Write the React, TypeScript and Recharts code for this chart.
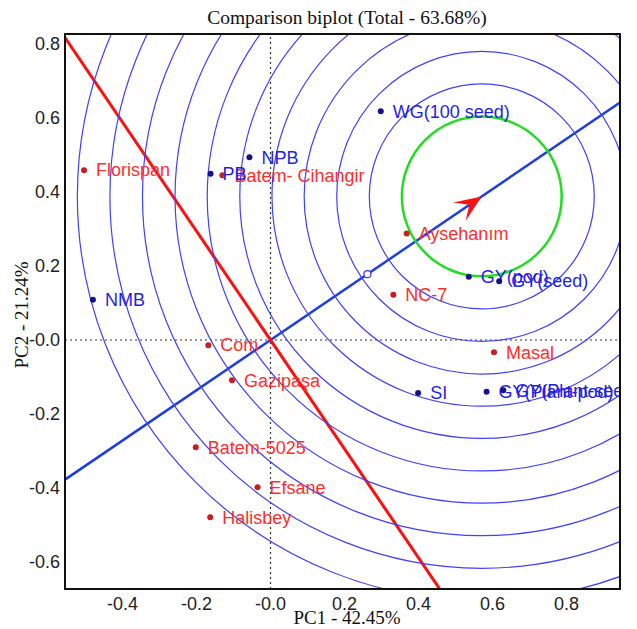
import React from 'react';
import {
  ScatterChart, Scatter, XAxis, YAxis, ReferenceLine, ReferenceDot,
} from 'recharts';

// ---- data ----
const GENOTYPES = ['Florispan', 'Batem- Cihangir', 'Aysehanım', 'NC-7', 'Masal', 'Com', 'Gazipaşa', 'Batem-5025', 'Efsane', 'Halisbey'];
const GENO_X = [-0.504, -0.130, 0.368, 0.332, 0.604, -0.168, -0.104, -0.202, -0.035, -0.163];
const GENO_Y = [0.459, 0.445, 0.288, 0.122, -0.033, -0.014, -0.109, -0.290, -0.398, -0.479];

const TRAITS = ['NPB', 'PB', 'WG(100 seed)', 'NMB', 'GY(pod)', 'GY(seed)', 'SI', 'GY(Plant-pod)', 'GY(Plant-seed)'];
const TRAIT_X = [-0.057, -0.162, 0.298, -0.480, 0.536, 0.618, 0.399, 0.584, 0.629];
const TRAIT_Y = [0.494, 0.449, 0.618, 0.109, 0.171, 0.159, -0.143, -0.140, -0.136];

const X_TICKS = [-0.4, -0.2, 0, 0.2, 0.4, 0.6, 0.8];
const Y_TICKS = [-0.6, -0.4, -0.2, 0, 0.2, 0.4, 0.6, 0.8];

const IDEAL = { x: 0.571, y: 0.388 };
const GREEN_RADIUS = 0.216;
const CIRCLE_RADII = [0.304, 0.392, 0.480, 0.567, 0.654, 0.742, 0.829, 0.917, 1.005, 1.093];
const AXIS_MARK = { x: 0.262, y: 0.178 };

const X_MIN = -0.5554, X_MAX = 0.9446, Y_MIN = -0.673, Y_MAX = 0.827;

// ---- layout ----
const W = 629, H = 621;
const MARGIN = { top: 26, right: 17, left: 0, bottom: 0 };
const Y_AXIS_W = 57, X_AXIS_H = 40;
const PLOT_X = MARGIN.left + Y_AXIS_W;
const PLOT_Y = MARGIN.top;
const PLOT_W = W - MARGIN.left - MARGIN.right - Y_AXIS_W;
const PLOT_H = H - MARGIN.top - MARGIN.bottom - X_AXIS_H;
const PX_PER_UNIT = PLOT_W / (X_MAX - X_MIN);
const BW = 2;

const SANS = 'Liberation Sans, Arial, Helvetica, sans-serif';
const SERIF = 'Liberation Serif, Times New Roman, serif';

const genoData = GENOTYPES.map((name, i) => ({ name, x: GENO_X[i], y: GENO_Y[i] }));
const traitData = TRAITS.map((name, i) => ({ name, x: TRAIT_X[i], y: TRAIT_Y[i] }));

const slope = IDEAL.y / IDEAL.x;
const blueSeg = [{ x: -1.5, y: -1.5 * slope }, { x: 1.5, y: 1.5 * slope }];
const redSeg = [{ x: -1.5, y: 1.5 / slope }, { x: 1.5, y: -1.5 / slope }];
const arrowAngle = -Math.atan(slope) * 180 / Math.PI;

const makeShape = (dot: string, label: string) => (p: any) => (
  <g>
    <circle cx={p.cx} cy={p.cy} r={3} fill={dot} />
    <text x={p.cx + 12} y={p.cy} dy="0.35em" fontSize={18} fill={label} fontFamily={SANS}>
      {p.payload.name}
    </text>
  </g>
);

const fmt = (v: number) => (v === 0 ? '-0.0' : v.toFixed(1));

export default function App() {
  return (
    <div style={{ position: 'relative', width: W, height: H }}>
      <ScatterChart width={W} height={H} margin={MARGIN}>
        <XAxis
          type="number" dataKey="x" domain={[X_MIN, X_MAX]} ticks={X_TICKS} allowDataOverflow
          tickFormatter={fmt} tickLine={false} axisLine={false} tickSize={0} tickMargin={8}
          height={X_AXIS_H} tick={{ fill: '#222', fontSize: 18, fontFamily: SANS }} interval={0}
        />
        <YAxis
          type="number" dataKey="y" domain={[Y_MIN, Y_MAX]} ticks={Y_TICKS} allowDataOverflow
          tickFormatter={fmt} tickLine={false} axisLine={false} tickSize={0} tickMargin={5}
          width={Y_AXIS_W} tick={{ fill: '#222', fontSize: 18, fontFamily: SANS }} interval={0}
        />
        {CIRCLE_RADII.map((r, i) => (
          <ReferenceDot key={i} x={IDEAL.x} y={IDEAL.y} r={r * PX_PER_UNIT} fill="none"
            stroke="#4040ff" strokeWidth={1.2} ifOverflow="hidden" />
        ))}
        <ReferenceLine x={0} stroke="#333" strokeDasharray="2 3" strokeWidth={1.2} />
        <ReferenceLine y={0} stroke="#333" strokeDasharray="2 3" strokeWidth={1.2} />
        <ReferenceDot x={IDEAL.x} y={IDEAL.y} r={GREEN_RADIUS * PX_PER_UNIT} fill="none"
          stroke="#22dd22" strokeWidth={2.5} ifOverflow="hidden" />
        <ReferenceLine segment={blueSeg} stroke="#1e3ee0" strokeWidth={2.5} ifOverflow="hidden" />
        <ReferenceLine segment={redSeg} stroke="#ff1010" strokeWidth={3} ifOverflow="hidden" />
        <ReferenceDot x={AXIS_MARK.x} y={AXIS_MARK.y} r={3.5} fill="#fff" stroke="#3c3cff" strokeWidth={1.2} />
        <ReferenceDot x={IDEAL.x} y={IDEAL.y} r={1}
          shape={(p: any) => (
            <polygon
              points="0,0 -27,-11 -15,0 -27,11"
              fill="#ff1010"
              transform={`translate(${p.cx},${p.cy}) rotate(${arrowAngle})`}
            />
          )}
        />
        <Scatter data={genoData} isAnimationActive={false} shape={makeShape('#c81e1e', '#ff2e2e')} />
        <Scatter data={traitData} isAnimationActive={false} shape={makeShape('#12128c', '#1f1fe6')} />
      </ScatterChart>
      <div
        style={{
          position: 'absolute',
          left: PLOT_X - BW / 2,
          top: PLOT_Y - BW / 2,
          width: PLOT_W + BW,
          height: PLOT_H + BW,
          border: `${BW}px solid #111`,
          boxSizing: 'border-box',
          pointerEvents: 'none',
        }}
      />
      <svg width={W} height={H} style={{ position: 'absolute', left: 0, top: 0, pointerEvents: 'none' }}>
        <text x={339} y={16} textAnchor="middle" fontSize={19.5} fontFamily={SERIF} fill="#111">
          Comparison biplot (Total - 63.68%)
        </text>
        <text x={339} y={616} textAnchor="middle" fontSize={19} fontFamily={SERIF} fill="#111">
          PC1 - 42.45%
        </text>
        <text x={20} y={307} textAnchor="middle" fontSize={19} fontFamily={SERIF} fill="#111"
          transform="rotate(-90 20 307)">
          PC2 - 21.24%
        </text>
      </svg>
    </div>
  );
}
